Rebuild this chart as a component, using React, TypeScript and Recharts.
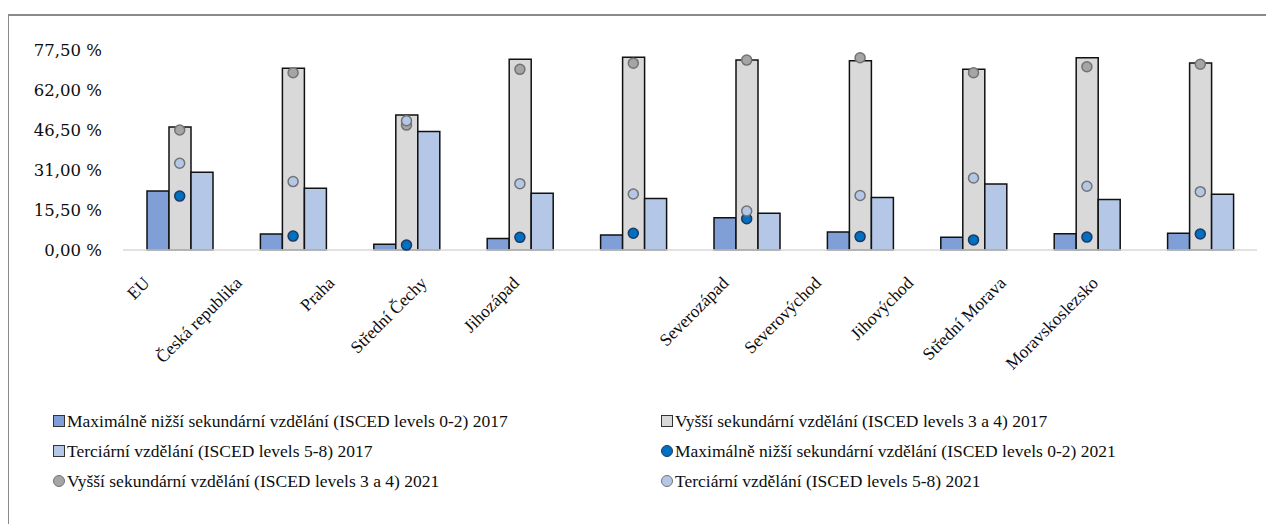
import { ComposedChart, Bar, Line, XAxis, YAxis, Legend } from "recharts";

// regiony
const categories = [
  "EU",
  "Česká republika",
  "Praha",
  "Střední Čechy",
  "Jihozápad",
  "Severozápad",
  "Severovýchod",
  "Jihovýchod",
  "Střední Morava",
  "Moravskoslezsko",
];

// 2017 - sloupce
const lower2017 = [22.9, 6.2, 2.2, 4.5, 5.8, 12.5, 7.0, 4.9, 6.3, 6.5];
const upper2017 = [47.7, 70.4, 52.3, 73.9, 74.7, 73.6, 73.3, 70.0, 74.5, 72.5];
const tertiary2017 = [30.1, 23.9, 45.9, 22.0, 20.0, 14.2, 20.3, 25.6, 19.6, 21.6];

// 2021 - body
const lower2021 = [20.9, 5.4, 1.9, 4.9, 6.5, 12.1, 5.2, 3.9, 5.0, 6.2];
const upper2021 = [46.5, 68.7, 48.4, 70.0, 72.4, 73.6, 74.5, 68.7, 71.0, 72.0];
const tertiary2021 = [33.6, 26.5, 50.1, 25.7, 21.7, 15.1, 21.1, 27.9, 24.7, 22.6];

const yTicks = [0, 15.5, 31, 46.5, 62, 77.5];

const data = categories.map((name, i) => ({
  name,
  lower2017: lower2017[i],
  upper2017: upper2017[i],
  tertiary2017: tertiary2017[i],
  lower2021: lower2021[i],
  upper2021: upper2021[i],
  tertiary2021: tertiary2021[i],
}));

const FONT = '"Liberation Serif", "Times New Roman", serif';
const NUM_FONT = '"DejaVu Serif", serif';
const TEXT = "#0d0d0d";

const series = [
  { key: "lower2017", name: "Maximálně nižší sekundární vzdělání (ISCED levels 0-2) 2017", kind: "bar", fill: "#7f9fd6", stroke: "#111" },
  { key: "upper2017", name: "Vyšší sekundární vzdělání (ISCED levels 3 a 4) 2017", kind: "bar", fill: "#d9d9d9", stroke: "#111" },
  { key: "tertiary2017", name: "Terciární vzdělání (ISCED levels 5-8) 2017", kind: "bar", fill: "#b4c7e7", stroke: "#111" },
  { key: "lower2021", name: "Maximálně nižší sekundární vzdělání (ISCED levels 0-2) 2021", kind: "dot", fill: "#0070c0", stroke: "#1f3864" },
  { key: "upper2021", name: "Vyšší sekundární vzdělání (ISCED levels 3 a 4) 2021", kind: "dot", fill: "#a5a5a5", stroke: "#737373" },
  { key: "tertiary2021", name: "Terciární vzdělání (ISCED levels 5-8) 2021", kind: "dot", fill: "#b4c7e7", stroke: "#737373" },
];

const fmt = (v: number) => v.toFixed(2).replace(".", ",") + " %";

// popisky osy x jsou v originale posunute doleva
function CategoryTick(props: any) {
  const { x, y, payload, index } = props;
  const shift = (index < 5 ? 29 : 17) + 21 * (index % 5);
  const tx = x - shift;
  const ty = y + 26;
  return (
    <text
      x={tx}
      y={ty}
      transform={`rotate(-45, ${tx}, ${ty})`}
      textAnchor="end"
      fontSize={17.5}
      fontFamily={FONT}
      fill={TEXT}
    >
      {payload.value}
    </text>
  );
}

function LegendGrid() {
  return (
    <div
      style={{
        display: "grid",
        gridTemplateColumns: "608px 600px",
        paddingLeft: 53,
        fontFamily: FONT,
        fontSize: 17.5,
        color: TEXT,
      }}
    >
      {series.map((s) => (
        <div key={s.key} style={{ display: "flex", alignItems: "center", height: 30, whiteSpace: "nowrap" }}>
          <span
            style={{
              display: "inline-block",
              width: 10,
              height: 10,
              background: s.fill,
              border: `1px solid ${s.kind === "bar" ? "#333" : s.stroke}`,
              borderRadius: s.kind === "dot" ? "50%" : 0,
              marginRight: 2,
              flexShrink: 0,
            }}
          />
          <span>{s.name}</span>
        </div>
      ))}
    </div>
  );
}

export default function App() {
  return (
    <div style={{ position: "relative", width: 1274, height: 532, margin: -8, overflow: "hidden", background: "#fff" }}>
      <div style={{ position: "absolute", left: 7, top: 14, width: 1400, height: 700, border: "2px solid #8a8a8a" }} />
      <div style={{ position: "absolute", left: 0, top: 0 }}>
        <ComposedChart
          width={1274}
          height={532}
          data={data}
          margin={{ top: 50, right: 17, bottom: 0, left: 0 }}
          barGap={0}
          barSize={22}
        >
          <XAxis
            dataKey="name"
            interval={0}
            height={282}
            tickLine={false}
            axisLine={{ stroke: "#d9d9d9", strokeWidth: 1.5 }}
            tick={(p: any) => <CategoryTick {...p} />}
          />
          <YAxis
            width={123}
            domain={[0, 77.5]}
            ticks={yTicks}
            tickFormatter={fmt}
            axisLine={false}
            tickLine={false}
            tickSize={0}
            tickMargin={21}
            tick={{ fontSize: 16.5, fontFamily: NUM_FONT, fill: TEXT }}
          />
          <Legend
            layout="horizontal"
            verticalAlign="middle"
            align="center"
            wrapperStyle={{ top: 406, left: 0, width: 1274 }}
            content={() => <LegendGrid />}
          />
          {series
            .filter((s) => s.kind === "bar")
            .map((s) => (
              <Bar key={s.key} dataKey={s.key} name={s.name} fill={s.fill} stroke={s.stroke} strokeWidth={1.5} isAnimationActive={false} />
            ))}
          {series
            .filter((s) => s.kind === "dot")
            .map((s) => (
              <Line
                key={s.key}
                dataKey={s.key}
                name={s.name}
                stroke="none"
                legendType="circle"
                dot={{ r: 5, fill: s.fill, stroke: s.stroke, strokeWidth: 1.5 }}
                activeDot={false}
                isAnimationActive={false}
              />
            ))}
        </ComposedChart>
      </div>
    </div>
  );
}
